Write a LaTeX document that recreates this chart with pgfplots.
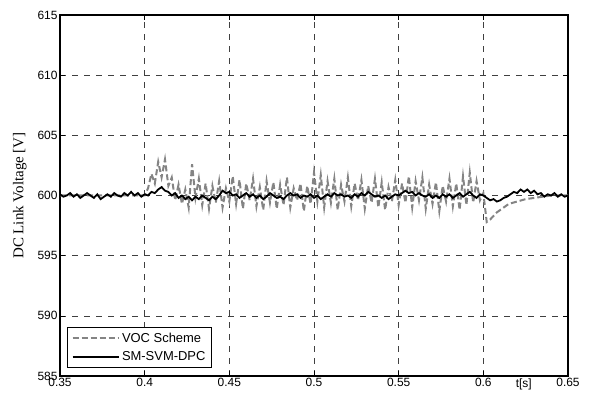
\documentclass[border=0pt]{standalone}
\usepackage{fontspec}
\setmainfont{Liberation Sans}
\newfontfamily\serifl{Liberation Serif}
\usepackage{pgfplots}
\pgfplotsset{compat=1.18}
\definecolor{vocgray}{RGB}{132,132,132}
\begin{document}
\begin{tikzpicture}
\begin{axis}[
  scale only axis,
  width=508bp, height=361bp,
  xmin=0.35, xmax=0.65, ymin=585, ymax=615,
  xtick={0.35,0.4,0.45,0.5,0.55,0.6,0.65},
  xticklabels={0.35,0.4,0.45,0.5,0.55,0.6,0.65},
  ytick={585,590,595,600,605,610,615},
  yticklabels={585,590,595,600,605,610,615},
  tick align=inside,
  major tick length=5bp,
  tick style={black, line width=0.6bp},
  axis line style={black, line width=1.1bp},
  grid=major,
  major grid style={black!75, dash pattern=on 6bp off 6bp, line width=0.6bp},
  ticklabel style={font=\fontsize{12}{13}\selectfont},
  xticklabel style={yshift=1.5bp},
  yticklabel style={xshift=1bp},
  ylabel={\serifl DC Link Voltage [V]},
  ylabel style={at={(axis description cs:-0.079,0.5)}, anchor=center, font=\fontsize{15}{16}\selectfont},
  legend cell align=left,
  legend style={at={(axis description cs:0.0138,0.022)}, anchor=south west,
    draw=black, line width=1bp, font=\fontsize{13}{15}\selectfont,
    inner xsep=4bp, inner ysep=3bp, row sep=3bp,
    nodes={inner sep=2.5bp}},
  legend image code/.code={\draw[#1] (0bp,0bp) -- (46bp,0bp);},
  clip mode=individual,
]
\addplot[vocgray, line width=2bp, dash pattern=on 6bp off 3bp] coordinates {
(0.350,600.0) (0.400,600.0)
(0.402,600.6) (0.404,601.8) (0.406,601.0) (0.408,602.8) (0.410,601.5) (0.412,603.0) (0.414,600.8) (0.416,601.5) (0.418,599.6) (0.420,600.9)
(0.422,599.3) (0.424,600.5) (0.426,599.0) (0.428,602.6) (0.430,599.8) (0.432,601.4) (0.434,599.2) (0.436,601.0) (0.438,598.9) (0.440,600.8)
(0.442,599.4) (0.444,601.2) (0.446,599.0) (0.448,600.6) (0.450,599.5) (0.452,601.6) (0.454,599.3) (0.456,601.3) (0.458,598.9) (0.460,601.0)
(0.462,599.6) (0.464,601.4) (0.466,599.1) (0.468,600.7) (0.470,598.8) (0.472,601.2) (0.474,599.4) (0.476,601.1) (0.478,598.9) (0.480,600.9)
(0.482,599.2) (0.484,601.5) (0.486,599.0) (0.488,600.6) (0.490,599.6) (0.492,601.0) (0.494,598.7) (0.496,600.8) (0.498,599.3) (0.500,601.9)
(0.502,599.5) (0.504,601.7) (0.506,599.0) (0.508,601.2) (0.510,599.4) (0.512,601.4) (0.514,598.8) (0.516,600.9) (0.518,599.5) (0.520,601.5)
(0.522,599.1) (0.524,601.0) (0.526,599.6) (0.528,601.3) (0.530,598.9) (0.532,600.8) (0.534,599.4) (0.536,601.4) (0.538,599.0) (0.540,601.1)
(0.542,598.8) (0.544,600.7) (0.546,599.5) (0.548,601.3) (0.550,599.2) (0.552,601.0) (0.554,599.4) (0.556,601.6) (0.558,599.0) (0.560,601.2)
(0.562,599.6) (0.564,601.5) (0.566,598.9) (0.568,600.9) (0.570,599.3) (0.572,601.1) (0.574,598.7) (0.576,600.8) (0.578,599.5) (0.580,601.4)
(0.582,599.1) (0.584,601.0) (0.586,598.8) (0.588,601.6) (0.590,599.2) (0.592,601.9) (0.594,599.4) (0.596,601.2) (0.598,599.6) (0.600,600.2)
(0.602,597.8) (0.604,598.0) (0.606,598.3) (0.608,598.6) (0.610,598.8) (0.612,599.0) (0.615,599.3) (0.620,599.5) (0.625,599.7) (0.630,599.8)
(0.635,599.9) (0.640,600.0) (0.650,600.0)
};
\addlegendentry{VOC Scheme}
\addplot[black, line width=1.8bp] coordinates {
(0.350,600.1) (0.352,599.9) (0.354,600.0) (0.356,600.2) (0.358,599.9) (0.360,600.1) (0.362,599.8) (0.364,600.0) (0.366,600.2) (0.368,600.0)
(0.370,599.8) (0.372,600.1) (0.374,599.7) (0.376,599.9) (0.378,600.1) (0.380,599.9) (0.382,600.2) (0.384,600.0) (0.386,599.9) (0.388,600.2)
(0.390,600.0) (0.392,600.3) (0.394,600.0) (0.396,600.2) (0.398,599.9) (0.400,600.1) (0.402,600.0) (0.404,600.3) (0.406,600.2) (0.408,600.5)
(0.410,600.7) (0.412,600.4) (0.414,600.3) (0.416,600.0) (0.418,600.2) (0.420,599.8) (0.422,600.0) (0.424,599.7) (0.426,599.9) (0.428,599.6)
(0.430,599.9) (0.432,599.7) (0.434,600.0) (0.436,599.8) (0.438,599.6) (0.440,599.9) (0.442,599.7) (0.444,600.0) (0.446,600.4) (0.448,600.2)
(0.450,600.3) (0.452,600.0) (0.454,600.1) (0.456,599.8) (0.458,600.0) (0.460,600.2) (0.462,599.9) (0.464,600.1) (0.466,599.8) (0.468,600.0)
(0.470,599.7) (0.472,599.9) (0.474,600.2) (0.476,600.0) (0.478,599.8) (0.480,599.9) (0.482,599.7) (0.484,600.0) (0.486,600.2) (0.488,600.0)
(0.490,600.1) (0.492,599.8) (0.494,600.0) (0.496,599.9) (0.498,600.1) (0.500,599.8) (0.502,600.0) (0.504,599.7) (0.506,599.9) (0.508,600.1)
(0.510,599.9) (0.512,600.2) (0.514,600.0) (0.516,600.1) (0.518,599.9) (0.520,600.0) (0.522,599.8) (0.524,600.1) (0.526,599.9) (0.528,600.2)
(0.530,600.0) (0.532,600.3) (0.534,600.1) (0.536,599.9) (0.538,600.0) (0.540,599.8) (0.542,600.0) (0.544,599.7) (0.546,599.9) (0.548,600.1)
(0.550,600.0) (0.552,600.2) (0.554,600.4) (0.556,600.2) (0.558,600.3) (0.560,600.0) (0.562,600.2) (0.564,600.0) (0.566,599.9) (0.568,600.1)
(0.570,599.8) (0.572,600.0) (0.574,599.8) (0.576,600.1) (0.578,599.9) (0.580,600.1) (0.582,599.8) (0.584,600.0) (0.586,600.2) (0.588,599.9)
(0.590,600.1) (0.592,600.3) (0.594,600.0) (0.596,599.8) (0.598,600.1) (0.600,600.0) (0.602,599.8) (0.604,599.6) (0.606,599.7) (0.608,599.5)
(0.610,599.6) (0.612,599.8) (0.614,599.9) (0.616,600.1) (0.618,600.3) (0.620,600.2) (0.622,600.5) (0.624,600.3) (0.626,600.5) (0.628,600.2)
(0.630,600.4) (0.632,600.1) (0.634,600.2) (0.636,599.9) (0.638,600.1) (0.640,600.0) (0.642,600.2) (0.644,599.9) (0.646,600.1) (0.648,599.9)
(0.650,600.0)
};
\addlegendentry{SM-SVM-DPC}
\node[anchor=north east, font=\fontsize{12}{13}\selectfont, inner sep=0pt] at (axis description cs:0.929,-0.006) {t[s]};
\end{axis}
\pgfresetboundingbox
\path[use as bounding box] (-60bp,-18bp) rectangle (537bp,376bp);
\end{tikzpicture}
\end{document}
